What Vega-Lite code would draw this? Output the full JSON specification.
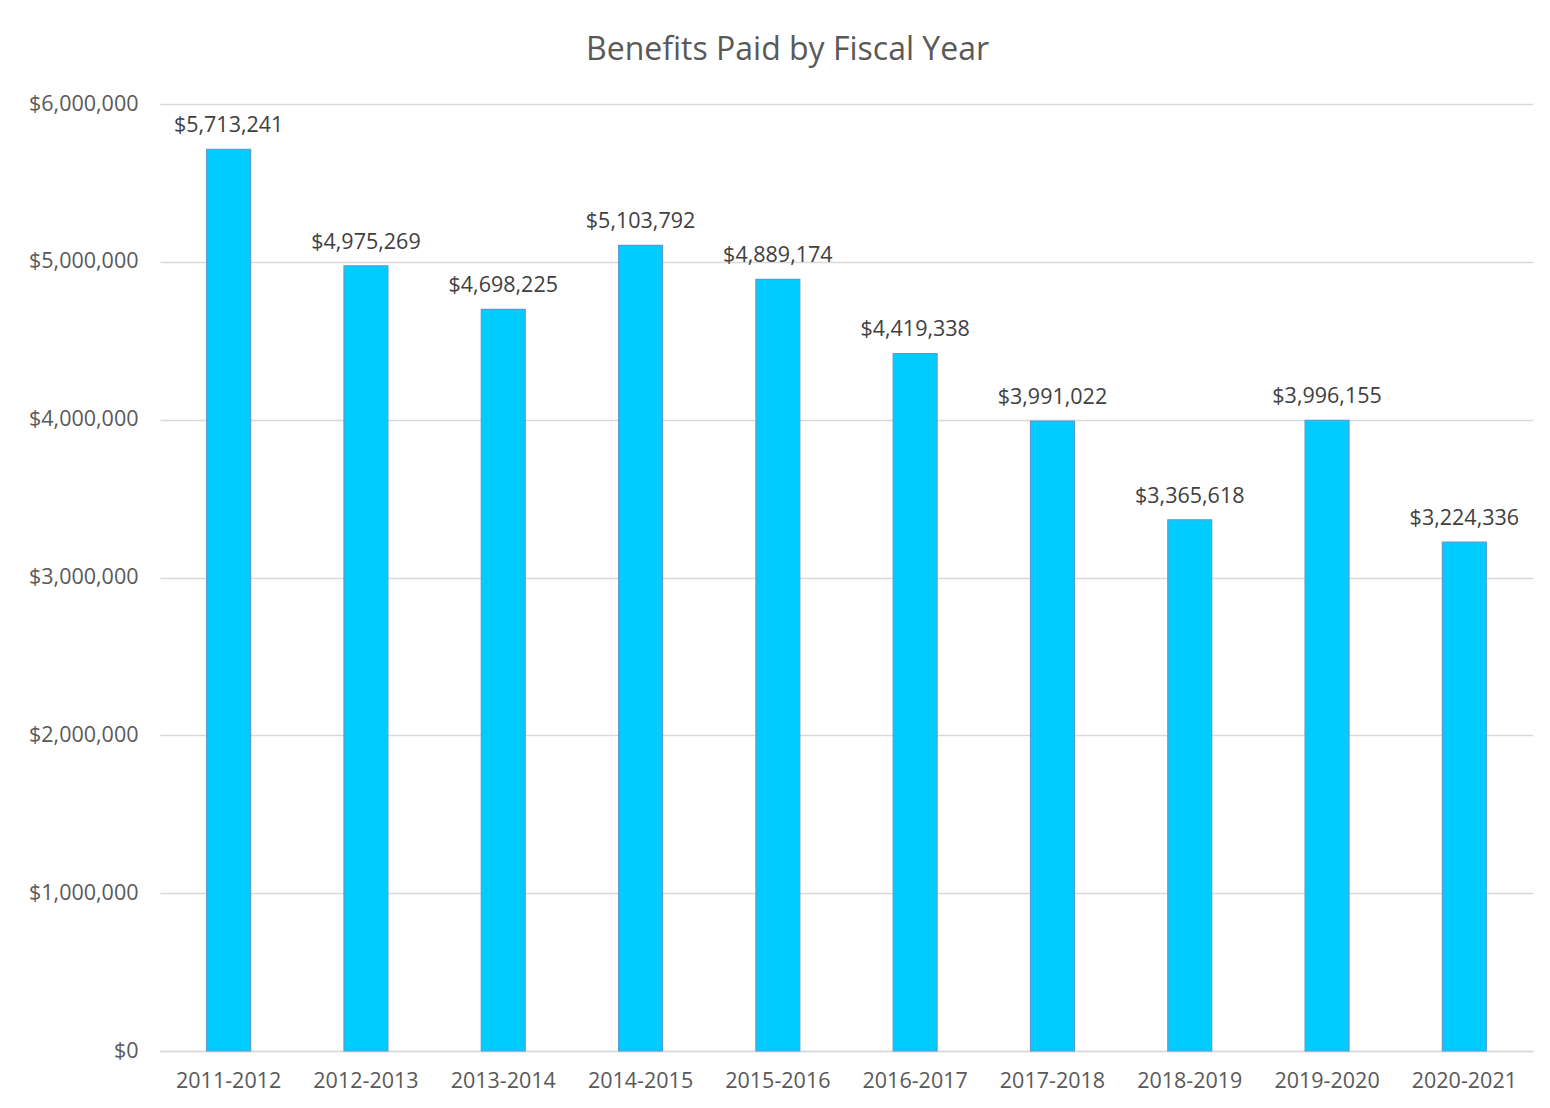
{
  "$schema": "https://vega.github.io/schema/vega-lite/v6.json",
  "autosize": {"type": "none"},
  "width": 1373,
  "height": 947,
  "padding": {"left": 160, "top": 104, "right": 17, "bottom": 57},
  "background": "white",
  "title": {
    "text": "Benefits Paid by Fiscal Year",
    "font": "Open Sans",
    "fontSize": 32,
    "fontWeight": "normal",
    "color": "#595959",
    "anchor": "middle",
    "dx": -59,
    "offset": 26
  },
  "data": {
    "values": [
      {"year": "2011-2012", "amount": 5713241},
      {"year": "2012-2013", "amount": 4975269},
      {"year": "2013-2014", "amount": 4698225},
      {"year": "2014-2015", "amount": 5103792},
      {"year": "2015-2016", "amount": 4889174},
      {"year": "2016-2017", "amount": 4419338},
      {"year": "2017-2018", "amount": 3991022},
      {"year": "2018-2019", "amount": 3365618},
      {"year": "2019-2020", "amount": 3996155},
      {"year": "2020-2021", "amount": 3224336}
    ]
  },
  "encoding": {
    "x": {
      "field": "year",
      "type": "nominal",
      "sort": null,
      "scale": {"paddingInner": 0.68, "paddingOuter": 0.34},
      "axis": {
        "title": null,
        "labelAngle": 0,
        "labelFont": "Open Sans",
        "labelFontSize": 21.5,
        "labelColor": "#595959",
        "labelPadding": 19,
        "ticks": false,
        "domainColor": "#D9D9D9",
        "domainWidth": 1.5
      }
    },
    "y": {
      "field": "amount",
      "type": "quantitative",
      "scale": {"domain": [0, 6000000], "nice": false},
      "axis": {
        "title": null,
        "values": [0, 1000000, 2000000, 3000000, 4000000, 5000000, 6000000],
        "format": "$,.0f",
        "labelFont": "Open Sans",
        "labelFontSize": 21.5,
        "labelColor": "#595959",
        "labelPadding": 22,
        "ticks": false,
        "domain": false,
        "gridColor": "#D9D9D9",
        "gridWidth": 1.5
      }
    }
  },
  "layer": [
    {
      "mark": {"type": "bar", "fill": "#00CCFF", "stroke": "#5B9BD5", "strokeWidth": 1.2}
    },
    {
      "mark": {
        "type": "text",
        "baseline": "bottom",
        "dy": -12,
        "font": "Open Sans",
        "fontSize": 21.5,
        "color": "#404040"
      },
      "encoding": {
        "text": {"field": "amount", "type": "quantitative", "format": "$,.0f"}
      }
    }
  ],
  "config": {
    "view": {"stroke": null}
  }
}
